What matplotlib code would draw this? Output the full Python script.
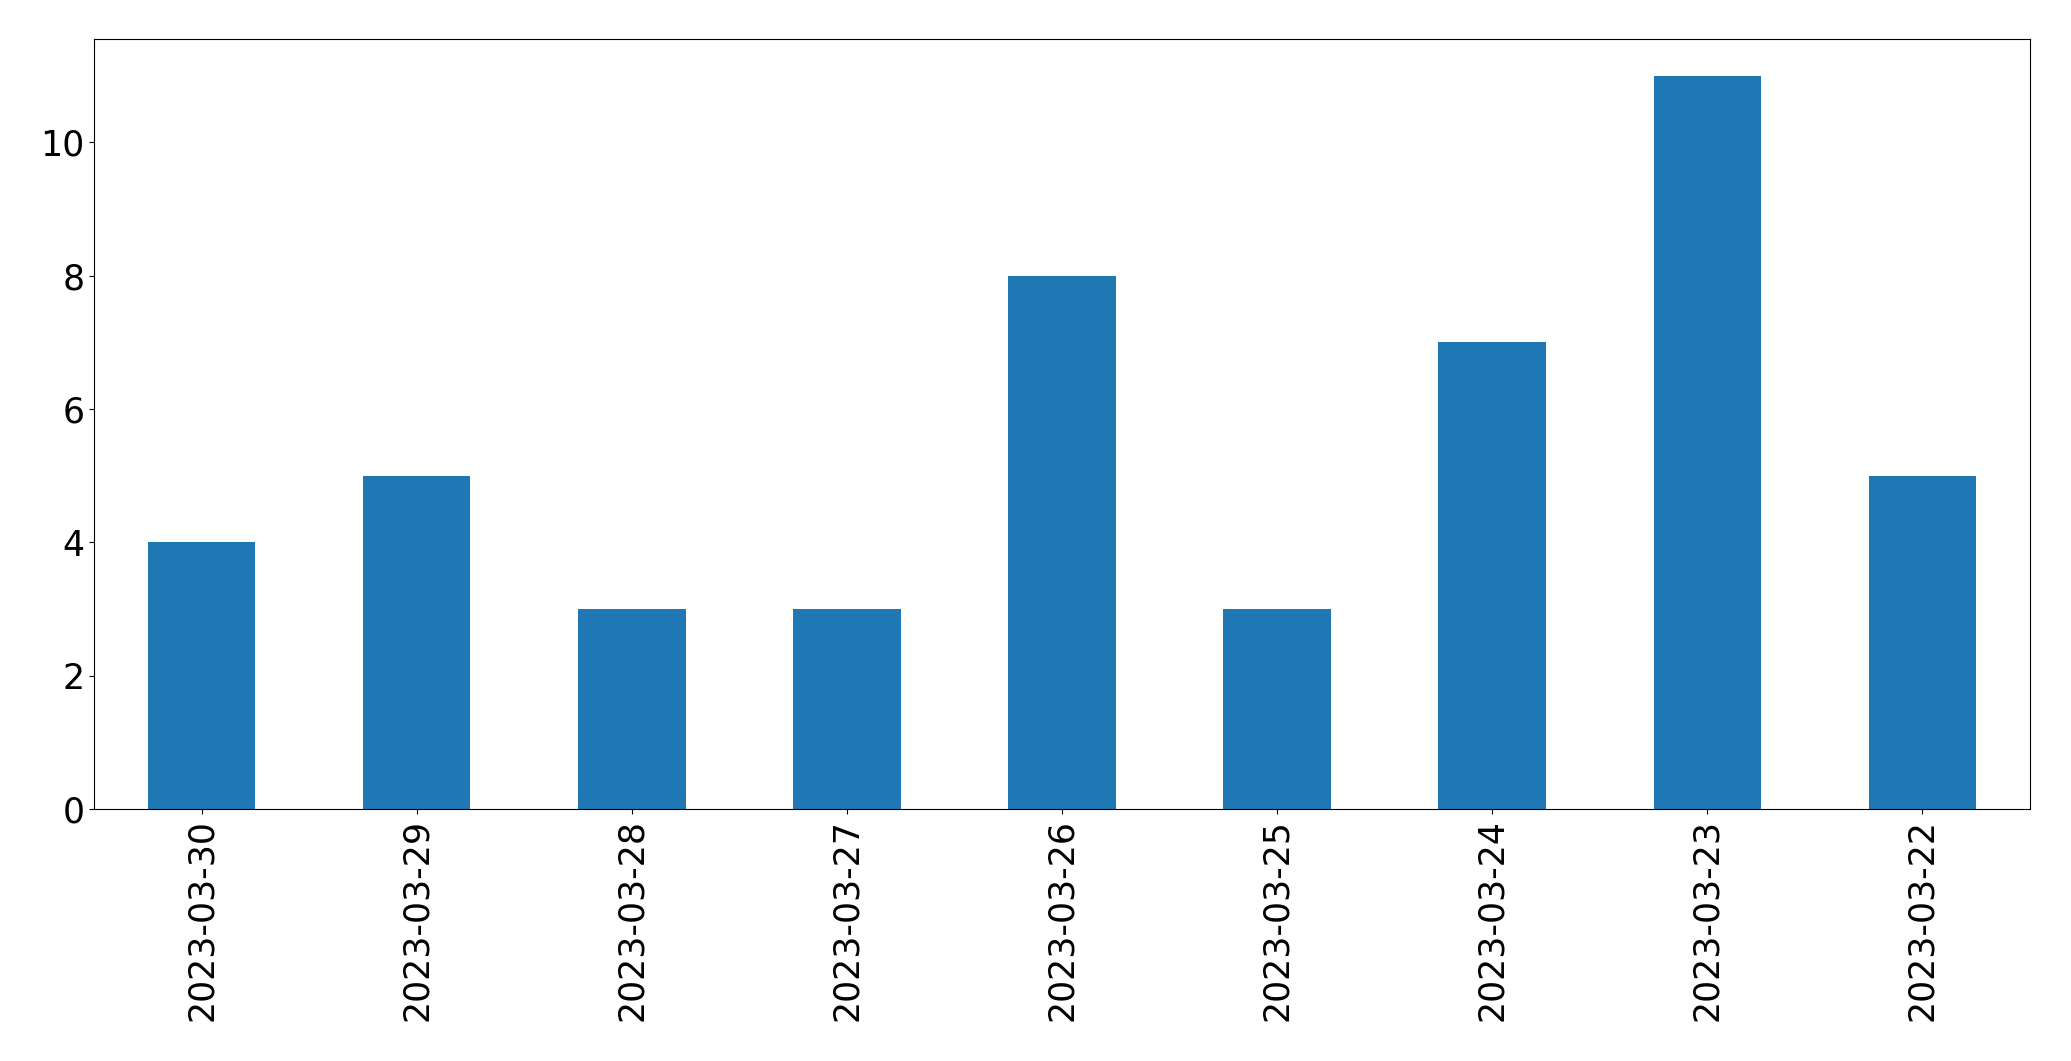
import matplotlib
matplotlib.use("Agg")
import matplotlib.pyplot as plt
import pandas as pd

dates = ['2023-03-30', '2023-03-29', '2023-03-28', '2023-03-27', '2023-03-26',
         '2023-03-25', '2023-03-24', '2023-03-23', '2023-03-22']
counts = [4, 5, 3, 3, 8, 3, 7, 11, 5]

fig, ax = plt.subplots(figsize=(20.71, 10.61), dpi=100)
s = pd.Series(counts, index=dates)
s.plot(kind='bar', ax=ax, color='#1f77b4', fontsize=25)
ax.set_xlabel('')

fig.subplots_adjust(left=94 / 2071, right=2030 / 2071, top=1 - 39 / 1061, bottom=1 - 809 / 1061)
fig.savefig('out.png', dpi=100)
